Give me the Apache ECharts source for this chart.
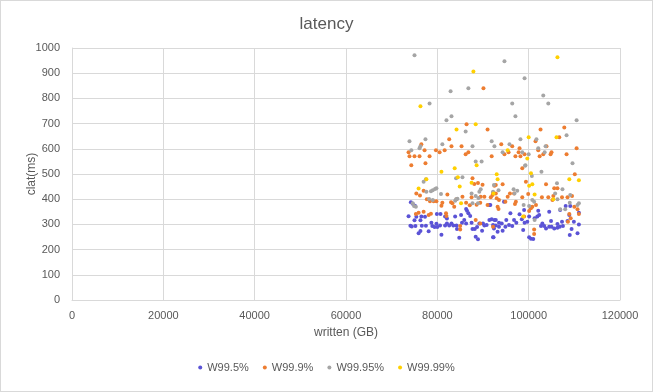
<!DOCTYPE html>
<html><head><meta charset="utf-8">
<script src="https://cdn.jsdelivr.net/npm/echarts@6/dist/echarts.min.js"></script>
<style>html,body{margin:0;padding:0;background:#fff}#c{width:653px;height:392px}</style>
</head><body><div id="c"></div>
<script>
const title = "latency";
const xName = "written (GB)";
const yName = "clat(ms)";
const seriesNames = ["W99.5%", "W99.9%", "W99.95%", "W99.99%"];
const colors = ["#5b53d6", "#ed7d31", "#a5a5a5", "#ffd000"];

const w995 = [
[74200,388],[74600,382],[75100,374],[73700,332],[75400,330],[76500,331],[77300,330],[75000,316],[76300,316],
[74100,295],[74400,292],[75200,294],[76600,295],[77500,295],[78700,307],[79800,303],[79900,341],[80700,341],
[78900,294],[79400,290],[80000,290],[80600,296],[78100,273],[76300,274],[75900,265],[80900,259],[81700,331],
[82100,323],[82100,304],[81700,296],[82600,296],[83100,304],[83900,331],[85200,337],[86300,361],[86500,354],
[86800,344],[87200,333],[86300,304],[85400,307],[84200,296],[83500,296],[84800,247],[84300,282],[87700,282],
[88200,282],[88400,251],[88900,241],[89200,304],[90000,304],[90300,296],[91400,377],[92500,317],[92200,249],
[92800,296],[90800,298],[89800,275],[88700,290],[87500,307],[85900,317],
[91600,377],[94600,390],[96000,344],[98000,340],[99000,357],[102100,354],[104500,350],[106900,357],[108100,373],
[109100,373],[111000,346],[91400,317],[91900,320],[92800,317],[93500,307],[94100,304],[95100,317],[95700,298],
[96800,317],[97300,307],[98500,320],[99100,307],[99700,311],[100100,331],[101300,324],[101900,331],[92200,298],
[92400,284],[93200,271],[94300,275],[92300,249],[96400,294],[98800,278],[100100,249],[100500,243],[101000,242],
[102700,294],[103400,294],[103800,284],[104500,291],[105000,291],[105600,284],[106300,287],[106800,291],[107500,294],
[108500,313],[108900,337],[109900,311],[111000,300],[109400,282],[109000,258],[110700,265],[106300,302],[107300,311],
[104900,313],[103000,304],[102300,337],[93500,291],[94900,291]
];
const w999 = [
[90100,840],[86400,697],[91000,677],[82600,638],[76500,618],[73700,586],[73900,570],[75000,570],[76100,570],
[77200,594],[78300,570],[79700,594],[80500,586],[81600,594],[83100,610],[85300,610],[86200,578],[86800,586],
[91900,570],[74300,535],[77400,543],
[102600,677],[107800,685],[94000,618],[96400,610],[98000,602],[94700,578],[95600,586],[97100,570],[97800,586],
[98200,570],[99100,578],[98600,523],[101500,630],[102100,594],[102400,570],[103200,578],[103900,610],[104800,578],
[105000,586],[106700,646],[108300,578],[110500,602],
[75400,423],[76200,415],[77000,434],[77700,400],[78400,392],[79200,392],[79800,392],[82200,419],[81100,386],
[80900,374],[75300,341],[75900,346],[77000,350],[78100,337],[78600,342],[81900,344],[82000,333],[83300,384],
[83700,370],[83000,388],[84200,400],[85500,410],[86300,386],[87100,376],[87500,408],[88100,460],[88900,464],
[89900,457],[87700,483],[89400,386],[88600,378],[89500,410],[90300,410],[91000,377],[91700,408],[92800,423],
[88400,317],[89400,304],[85000,280],[85000,294],
[110100,499],[92800,456],[94300,459],[99400,469],[103800,459],[92500,453],[92200,426],[92100,417],[93000,404],
[93500,397],[94900,390],[95400,410],[95900,423],[96800,423],[97000,381],[97200,390],[98600,408],[99900,421],
[100100,353],[100500,364],[100800,370],[101600,377],[102900,408],[104300,408],[105400,413],[106300,443],[107300,408],
[108500,408],[109500,413],[110000,370],[110700,360],[111000,341],[108900,341],[109200,324],[108600,311],[93200,370],
[93400,361],[92200,291],[99000,331],[101200,280],[101200,262],[105600,443],[105200,397]
];
const w9995 = [
[75000,971],[86800,840],[82900,828],[78300,780],[83100,729],[82000,713],[86200,669],[77400,638],[73900,630],
[91900,630],[81100,618],[87700,610],[92500,610],[76300,610],[76100,602],[74300,594],[88400,550],[89700,550],
[94700,947],[99100,880],[103200,812],[96400,780],[104300,780],[97100,729],[110500,713],[108300,654],[98200,638],
[101700,638],[95800,618],[102100,602],[103700,610],[94300,586],[98600,586],[100000,578],[103500,586],[109600,543],
[99300,535],
[77000,469],[77500,479],[84100,483],[85500,487],[77600,430],[78600,432],[79000,436],[79500,440],[79800,443],
[80800,421],[74600,384],[74900,373],[75300,370],[78200,401],[79000,397],[84100,400],[84400,402],[83900,394],
[87500,423],[88400,413],[89200,430],[89500,439],[88900,384],[87700,384],[89000,405],[92200,430],[92400,456],
[99200,533],[100700,492],[102800,509],[96700,439],[97500,434],[96900,423],[93400,436],[106200,463],[105800,423],
[107400,439],[109100,417],[110700,377],[111000,384],[100800,397],[101200,390],[101300,317],[100100,373],[106300,400],
[106900,360],[108000,360],[109000,386],[98900,377]
];
const w9999 = [
[87900,907],[76300,769],[84200,677],[88400,697],[83800,523],[88600,535],[106300,963],[100000,646],[106100,646],
[95400,594],[99700,562],[80900,509],[77600,479],[84500,487],[84900,450],[87500,465],[75900,442],[85200,384],
[92300,423],[93000,499],[100500,503],[100100,453],[100800,459],[101300,419],[105400,400],[108900,479],[111000,475],
[93200,479],[98800,331]
];
const xTicks = [0, 20000, 40000, 60000, 80000, 100000, 120000];
const yTicks = [0, 100, 200, 300, 400, 500, 600, 700, 800, 900, 1000];

const allData = [w995, w999, w9995, w9999];
const font = "'Liberation Sans', Arial, sans-serif";
const chart = echarts.init(document.getElementById('c'), null, {renderer: 'canvas'});
chart.setOption({
  backgroundColor: '#fff',
  animation: false,
  title: {text: title, left: 'center', top: 11, textStyle: {fontFamily: font, fontSize: 17, fontWeight: 'normal', color: '#595959'}},
  grid: {left: 72, right: 33, top: 48, bottom: 92, containLabel: false},
  legend: {
    bottom: 14, left: 'center', itemWidth: 4, itemHeight: 4, itemGap: 14, icon: 'circle',
    textStyle: {fontFamily: font, fontSize: 11, color: '#595959'},
    data: seriesNames
  },
  xAxis: {
    type: 'value', min: xTicks[0], max: xTicks[xTicks.length-1], interval: 20000,
    name: xName, nameLocation: 'middle', nameGap: 27, nameMoveOverlap: false,
    nameTextStyle: {fontFamily: font, fontSize: 12, color: '#595959'},
    axisLine: {show: true, lineStyle: {color: '#d9d9d9'}}, axisTick: {show: false},
    axisLabel: {fontFamily: font, fontSize: 11, color: '#595959', margin: 10, formatter: v => String(v)},
    splitLine: {show: true, lineStyle: {color: '#d9d9d9'}}
  },
  yAxis: {
    type: 'value', min: yTicks[0], max: yTicks[yTicks.length-1], interval: 100,
    name: yName, nameLocation: 'middle', nameGap: 34, nameMoveOverlap: false,
    nameTextStyle: {fontFamily: font, fontSize: 12, color: '#595959'},
    axisLine: {show: true, lineStyle: {color: '#d9d9d9'}}, axisTick: {show: false},
    axisLabel: {fontFamily: font, fontSize: 11, color: '#595959', margin: 12, formatter: v => String(v)},
    splitLine: {show: true, lineStyle: {color: '#d9d9d9'}}
  },
  series: allData.map((d, i) => ({
    name: seriesNames[i], type: 'scatter', data: d, symbol: 'circle', symbolSize: 4,
    itemStyle: {color: colors[i], opacity: 1}
  }))
});
</script>
<div style="position:absolute;left:0;top:0;width:651px;height:390px;border:1px solid #d9d9d9;pointer-events:none"></div>
</body></html>
